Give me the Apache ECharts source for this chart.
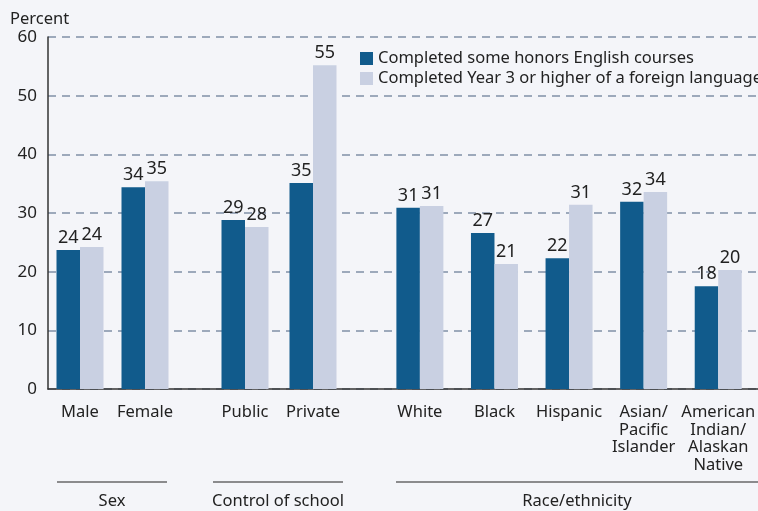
<!DOCTYPE html>
<html>
<head>
<meta charset="utf-8">
<script src="https://cdn.jsdelivr.net/npm/echarts@6/dist/echarts.min.js"></script>
<style>
  html, body { margin: 0; padding: 0; background: #f4f5f9; }
  #chart { width: 758px; height: 511px; }
</style>
</head>
<body>
<div id="chart"></div>
<script>
// categories per group
const sexCats = ['Male', 'Female'];
const schoolCats = ['Public', 'Private'];
const raceCats = ['White', 'Black', 'Hispanic', 'Asian/\nPacific\nIslander', 'American\nIndian/\nAlaskan\nNative'];
const groupNames = ['Sex', 'Control of school', 'Race/ethnicity'];

// percent values
const honorsSex = [23.7, 34.4];
const langSex = [24.2, 35.4];
const honorsSchool = [28.8, 35.1];
const langSchool = [27.6, 55.2];
const honorsRace = [30.9, 26.6, 22.3, 31.9, 17.5];
const langRace = [31.2, 21.3, 31.4, 33.6, 20.3];

const yTicks = [0, 10, 20, 30, 40, 50, 60];

const seriesNames = ['Completed some honors English courses', 'Completed Year 3 or higher of a foreign language'];
const darkBlue = '#115b8c';
const lightBlue = '#c9d0e2';
const textColor = '#222';
const font = 'Noto Sans';

const chart = echarts.init(document.getElementById('chart'));

const plotTop = 37;
const plotBottom = 122;

// bar grids: one per group so the gaps match the original
const barGrids = [
  { left: 47.5, width: 130, cats: sexCats, a: honorsSex, b: langSex },
  { left: 211, width: 136, cats: schoolCats, a: honorsSchool, b: langSchool },
  { left: 382.6, width: 373.8, cats: raceCats, a: honorsRace, b: langRace }
];

const grids = [{ left: 48, right: 0, top: plotTop, bottom: plotBottom }];
const xAxes = [{
  gridIndex: 0, type: 'value', min: 0, max: 1,
  axisLine: { show: true, onZero: false, lineStyle: { color: '#333', width: 1.5 } },
  axisTick: { show: false }, axisLabel: { show: false }, splitLine: { show: false }
}];
const yAxes = [{
  gridIndex: 0, type: 'value', min: yTicks[0], max: yTicks[yTicks.length - 1], interval: 10,
  axisLine: { show: true, lineStyle: { color: '#333', width: 1.5 } },
  axisTick: { show: false },
  axisLabel: { color: textColor, fontSize: 17, fontFamily: font, margin: 11 },
  splitLine: { show: true, lineStyle: { color: '#8090a6', width: 1.5, type: [8, 6] } }
}];
const series = [];

barGrids.forEach((g, i) => {
  const gi = i + 1;
  grids.push({ left: g.left, width: g.width, top: plotTop, bottom: plotBottom });
  xAxes.push({
    gridIndex: gi, type: 'category', data: g.cats,
    axisLine: { show: false }, axisTick: { show: false },
    axisLabel: { color: textColor, fontSize: 16.5, fontFamily: font, margin: 15, lineHeight: 17.5, interval: 0 }
  });
  yAxes.push({
    gridIndex: gi, type: 'value', min: 0, max: 60, interval: 10, show: false,
    splitLine: { show: false }
  });
  [g.a, g.b].forEach((vals, k) => {
    series.push({
      name: seriesNames[k], type: 'bar', xAxisIndex: gi, yAxisIndex: gi,
      data: vals, barWidth: 23.5, barGap: '0%',
      itemStyle: { color: k === 0 ? darkBlue : lightBlue },
      label: {
        show: true, position: 'top', distance: 3, color: textColor,
        fontSize: 18, fontFamily: font,
        formatter: p => Math.round(p.value)
      }
    });
  });
});

// group brackets under the axis labels
const groupLines = [[57, 167], [213, 343], [396, 758]];
const graphic = [{
  type: 'text', left: 10, top: 11,
  style: { text: 'Percent', fill: textColor, font: '16.5px ' + font }
}];
groupLines.forEach((seg, i) => {
  graphic.push({
    type: 'line', shape: { x1: seg[0], y1: 482, x2: seg[1], y2: 482 },
    style: { stroke: '#222', lineWidth: 1.2 }
  });
  graphic.push({
    type: 'text', x: (seg[0] + seg[1]) / 2, y: 501,
    style: { text: groupNames[i], fill: textColor, font: '16.5px ' + font, align: 'center', verticalAlign: 'middle' }
  });
});

chart.setOption({
  backgroundColor: '#f4f5f9',
  animation: false,
  legend: {
    data: seriesNames, orient: 'vertical', left: 355, top: 45,
    itemWidth: 13, itemHeight: 13, itemGap: 3, icon: 'rect',
    textStyle: { color: textColor, fontSize: 16.5, fontFamily: font }
  },
  grid: grids,
  xAxis: xAxes,
  yAxis: yAxes,
  series: series,
  graphic: graphic
});
</script>
</body>
</html>
